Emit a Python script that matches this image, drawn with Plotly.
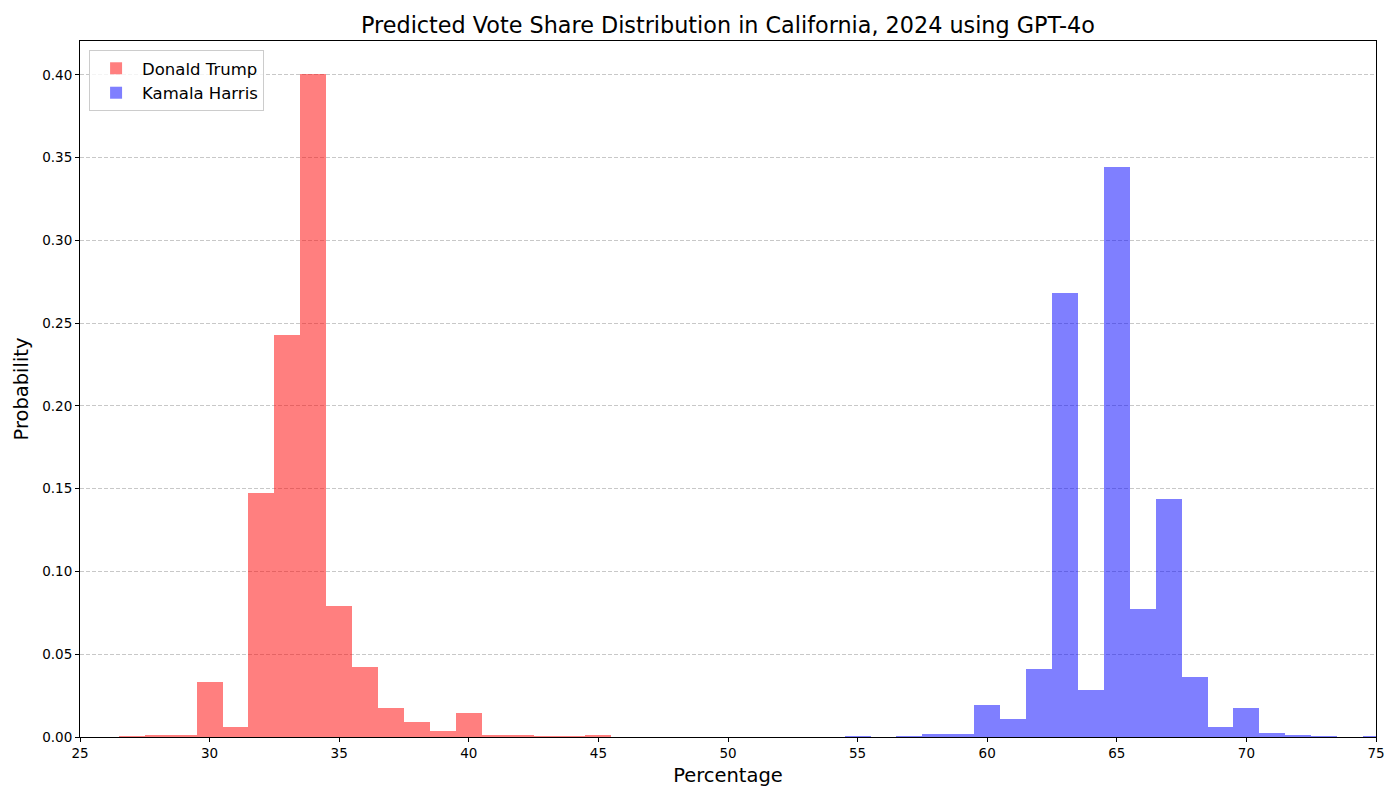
import plotly.graph_objects as go

trump_bins = [27, 28, 29, 30, 31, 32, 33, 34, 35, 36, 37, 38, 39, 40, 41, 42, 43, 44, 45]
trump_prob = [0.0008, 0.0014, 0.0014, 0.0334, 0.0062, 0.1472, 0.2431, 0.4006, 0.0790, 0.0424,
              0.0177, 0.0089, 0.0034, 0.0143, 0.0014, 0.0014, 0.0008, 0.0008, 0.0014]

harris_bins = [55, 57, 58, 59, 60, 61, 62, 63, 64, 65, 66, 67, 68, 69, 70, 71, 72, 73, 75]
harris_prob = [0.0008, 0.0008, 0.0020, 0.0020, 0.0195, 0.0110, 0.0412, 0.2685, 0.0285, 0.3445,
               0.0772, 0.1436, 0.0364, 0.0062, 0.0177, 0.0026, 0.0014, 0.0008, 0.0008]

y_ticks = [0.0, 0.05, 0.10, 0.15, 0.20, 0.25, 0.30, 0.35, 0.40]
x_ticks = [25, 30, 35, 40, 45, 50, 55, 60, 65, 70, 75]

fig = go.Figure()
fig.add_trace(go.Bar(x=trump_bins, y=trump_prob, width=1, name="Donald Trump",
                     marker=dict(color="rgba(255,0,0,0.5)", line=dict(width=0))))
fig.add_trace(go.Bar(x=harris_bins, y=harris_prob, width=1, name="Kamala Harris",
                     marker=dict(color="rgba(0,0,255,0.5)", line=dict(width=0))))

font = "DejaVu Sans, sans-serif"
fig.update_layout(
    width=1400, height=800,
    barmode="overlay", bargap=0,
    paper_bgcolor="white", plot_bgcolor="white",
    margin=dict(l=72, r=32, t=33, b=71),
    font=dict(family=font, color="black", size=13.5),
    title=dict(text="Predicted Vote Share Distribution in California, 2024 using GPT-4o",
               x=0.5, xanchor="center", xref="paper", y=0.978, yanchor="middle",
               font=dict(size=22.3, family=font)),
    legend=dict(x=0.007, y=0.987, xanchor="left", yanchor="top", itemwidth=42,
                bgcolor="rgba(255,255,255,0.8)", bordercolor="#cccccc", borderwidth=1,
                font=dict(size=16.5, family=font)),
    xaxis=dict(range=[25, 75], tickvals=x_ticks, showgrid=False, zeroline=False,
               showline=True, linecolor="black", linewidth=1, mirror=True,
               ticks="outside", ticklen=4, tickcolor="black",
               title=dict(text="Percentage", font=dict(size=19.5, family=font), standoff=8)),
    yaxis=dict(range=[0, 0.4205], tickvals=y_ticks, tickformat=".2f",
               showgrid=True, gridcolor="rgba(176,176,176,0.7)", griddash="4px,2px", gridwidth=1,
               zeroline=False, showline=True, linecolor="black", linewidth=1, mirror=True,
               ticks="outside", ticklen=4, tickcolor="black",
               title=dict(text="Probability", font=dict(size=19.5, family=font), standoff=8)),
)

fig.write_html("out.html")
